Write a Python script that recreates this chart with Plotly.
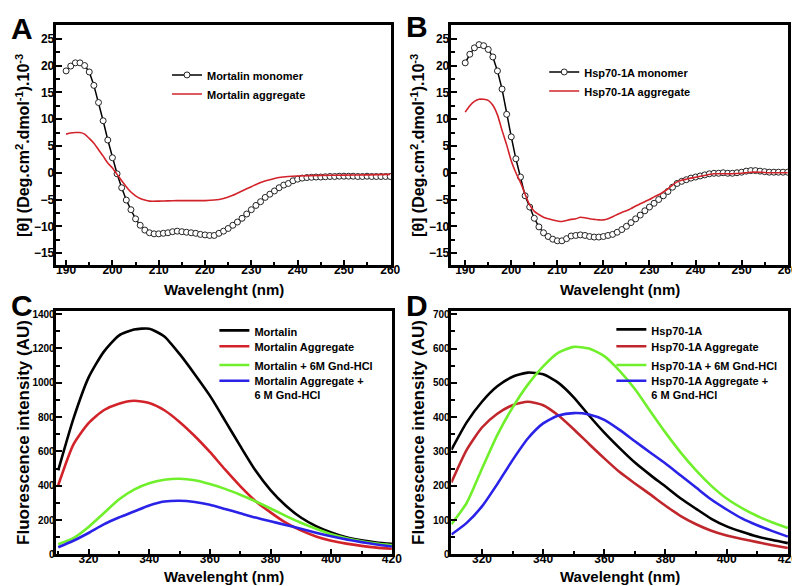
import plotly.graph_objects as go

FONT = "Liberation Sans, Arial, Helvetica, sans-serif"

# ---------------- Panel A / B : CD spectra ----------------
cd_wl = list(range(190, 261))

mortalin_monomer = [
    19.0, 19.9, 20.5, 20.5, 20.0, 18.8, 16.3, 13.1, 9.7, 6.1,
    2.8, -0.2, -2.8, -5.1, -6.9, -8.6, -9.8, -10.7, -11.2, -11.4,
    -11.4, -11.3, -11.2, -11.0, -10.9, -11.0, -11.1, -11.2, -11.3, -11.5,
    -11.6, -11.7, -11.7, -11.3, -10.9, -10.4, -9.8, -9.2, -8.5, -7.7,
    -6.9, -6.1, -5.4, -4.6, -4.0, -3.4, -2.8, -2.3, -2.0, -1.5,
    -1.2, -1.0, -0.9, -0.85, -0.8, -0.8, -0.75, -0.7, -0.7, -0.65,
    -0.65, -0.65, -0.65, -0.7, -0.7, -0.65, -0.7, -0.7, -0.7, -0.7,
    -0.7]

mortalin_agg_wl = [190, 191, 192, 193, 194, 195, 196, 197, 198, 199, 200, 201, 202, 203, 204,
                   205, 206, 207, 208, 210, 212, 214, 216, 218, 220, 222, 224, 226, 228, 230,
                   232, 234, 236, 238, 240, 245, 250, 255, 260]
mortalin_agg = [7.2, 7.4, 7.5, 7.5, 7.2, 6.4, 5.5, 4.3, 3.1, 1.8, 0.9, -0.3, -1.5, -2.6, -3.6,
                -4.3, -4.8, -5.1, -5.3, -5.3, -5.25, -5.2, -5.2, -5.2, -5.2, -5.1, -4.8, -4.2, -3.4, -2.6,
                -1.8, -1.3, -0.9, -0.7, -0.6, -0.5, -0.45, -0.4, -0.3]

hsp_monomer = [
    20.5, 22.1, 23.3, 23.9, 23.7, 23.0, 21.6, 19.0, 15.6, 10.9,
    6.7, 2.6, -0.8, -4.3, -6.4, -8.5, -10.1, -11.2, -11.9, -12.4,
    -12.7, -12.7, -12.3, -11.8, -11.7, -11.6, -11.7, -11.9, -12.0, -12.0,
    -11.9, -11.7, -11.5, -11.1, -10.6, -10.0, -9.3, -8.6, -7.9, -7.1,
    -6.4, -5.7, -5.0, -4.3, -3.5, -2.7, -2.0, -1.6, -1.3, -1.0,
    -0.8, -0.6, -0.4, -0.2, -0.1, -0.1, 0.0, -0.1, -0.1, 0.0,
    0.1, 0.3, 0.4, 0.4, 0.3, 0.2, 0.1, 0.1, 0.1, 0.1,
    0.1]

hsp_agg_wl = list(range(190, 241)) + [242, 244, 246, 248, 250, 252, 254, 256, 258, 260]
hsp_agg = [
    11.3, 12.5, 13.3, 13.7, 13.7, 13.5, 12.6, 10.8, 7.9, 5.2,
    2.2, 0.0, -1.8, -4.0, -6.0, -7.2, -7.8, -8.3, -8.6, -8.8,
    -9.0, -9.1, -8.9, -8.7, -8.6, -8.3, -8.4, -8.6, -8.7, -8.8,
    -8.8, -8.6, -8.2, -7.8, -7.4, -7.1, -6.7, -6.2, -5.8, -5.4,
    -5.0, -4.5, -4.1, -3.6, -3.0, -2.3, -1.7, -1.4, -1.2, -1.0,
    -0.85,
    -0.5, -0.2, -0.2, -0.2, -0.1, 0.1, 0.1, 0.0, 0.0, 0.0]

# ---------------- Panel C / D : fluorescence ----------------
fl_wl = list(range(310, 421, 5))

mortalin = [490, 790, 1030, 1180, 1275, 1310, 1315, 1270, 1168, 1050, 925, 780, 632,
            490, 375, 285, 215, 165, 128, 100, 82, 70, 62]
mortalin_aggr = [403, 640, 765, 840, 878, 895, 882, 840, 772, 690, 597, 495, 398,
                 312, 245, 185, 140, 105, 80, 63, 50, 40, 33]
mortalin_gnd = [60, 95, 160, 240, 320, 378, 415, 435, 441, 432, 410, 382, 348,
                310, 268, 225, 185, 150, 118, 95, 77, 63, 53]
mortalin_aggr_gnd = [42, 80, 125, 175, 215, 250, 285, 308, 313, 306, 290, 265, 240,
                     215, 193, 172, 150, 127, 106, 88, 72, 58, 46]

hsp = [305, 385, 445, 490, 518, 530, 525, 500, 458, 405, 355, 310, 268,
       232, 198, 163, 133, 104, 82, 66, 52, 42, 33]
hsp_aggr = [210, 305, 370, 410, 435, 445, 435, 405, 365, 322, 280, 240, 207,
            175, 142, 112, 88, 69, 55, 45, 36, 27, 19]
hsp_gnd = [88, 150, 250, 348, 428, 495, 548, 588, 605, 600, 578, 535, 482,
           418, 355, 297, 245, 200, 163, 135, 112, 93, 77]
hsp_aggr_gnd = [58, 92, 140, 205, 275, 338, 382, 405, 412, 408, 392, 363, 330,
                297, 265, 230, 195, 160, 131, 105, 85, 68, 52]

RED = "#d2232a"
RED_D = "#c0272d"
GREEN = "#70f02c"
BLUE = "#2a22e6"
BLACK = "#000000"

fig = go.Figure()


def monomer(x, y, name, xa, ya, leg):
    fig.add_trace(go.Scatter(
        x=x, y=y, name=name, mode="lines+markers", xaxis=xa, yaxis=ya, legend=leg,
        line=dict(color="black", width=1.5),
        marker=dict(symbol="circle", size=6, color="white", line=dict(color="#222222", width=1))))


def line(x, y, name, color, xa, ya, leg, width=1.6):
    fig.add_trace(go.Scatter(
        x=x, y=y, name=name, mode="lines", xaxis=xa, yaxis=ya, legend=leg,
        line=dict(color=color, width=width, shape="spline", smoothing=0.6)))


monomer(cd_wl, mortalin_monomer, "Mortalin monomer", "x", "y", "legend")
line(mortalin_agg_wl, mortalin_agg, "Mortalin aggregate", RED, "x", "y", "legend")

monomer(cd_wl, hsp_monomer, "Hsp70-1A monomer", "x2", "y2", "legend2")
line(hsp_agg_wl, hsp_agg, "Hsp70-1A aggregate", RED, "x2", "y2", "legend2")

line(fl_wl, mortalin, "Mortalin", BLACK, "x3", "y3", "legend3", 2.6)
line(fl_wl, mortalin_aggr, "Mortalin Aggregate", RED, "x3", "y3", "legend4", 2.6)
line(fl_wl, mortalin_gnd, "Mortalin + 6M Gnd-HCl", GREEN, "x3", "y3", "legend5", 2.6)
line(fl_wl, mortalin_aggr_gnd, "Mortalin Aggregate +<br>6 M Gnd-HCl", BLUE, "x3", "y3", "legend6", 2.6)

line(fl_wl, hsp, "Hsp70-1A", BLACK, "x4", "y4", "legend7", 2.6)
line(fl_wl, hsp_aggr, "Hsp70-1A Aggregate", RED_D, "x4", "y4", "legend8", 2.6)
line(fl_wl, hsp_gnd, "Hsp70-1A + 6M Gnd-HCl", GREEN, "x4", "y4", "legend9", 2.6)
line(fl_wl, hsp_aggr_gnd, "Hsp70-1A Aggregate +<br>6 M Gnd-HCl", BLUE, "x4", "y4", "legend10", 2.6)

W, H = 800, 586


def px(v):
    return v / W


def py(v):
    return 1 - v / H


def axis(domain, rng, dtick, mdtick, anchor, fsize=12, standoff=-3):
    return dict(domain=domain, range=rng, anchor=anchor, showline=True, mirror=True,
                linecolor="black", linewidth=2.5, ticks="inside", ticklen=6, tickwidth=2,
                tickcolor="black", tick0=0, dtick=dtick, ticklabelstandoff=standoff,
                minor=dict(ticks="inside", ticklen=3.5, tickwidth=1.5, tickcolor="black",
                           tick0=0, dtick=mdtick),
                showgrid=False, zeroline=False,
                tickfont=dict(family=FONT, size=fsize, color="black", weight="bold"))


top_y = [py(259), py(15)]
bot_y = [py(552), py(305)]
left_x = [px(49), px(388)]
right_x = [px(449), px(790)]

layout = dict(
    width=W, height=H, margin=dict(l=0, r=0, t=0, b=0),
    paper_bgcolor="white", plot_bgcolor="white", showlegend=True,
    xaxis=axis(left_x, [187.9, 260.2], 10, 5, "y", standoff=-9),
    yaxis=axis(top_y, [-17.3, 27.6], 5, 2.5, "x"),
    xaxis2=axis(right_x, [187.0, 260.1], 10, 5, "y2", standoff=-9),
    yaxis2=axis(top_y, [-17.3, 27.6], 5, 2.5, "x2"),
    xaxis3=axis([px(49), px(389)], [309.4, 420.1], 20, 10, "y3", standoff=-9),
    yaxis3=axis(bot_y, [0, 1419], 200, 100, "x3", 10),
    xaxis4=axis(right_x, [310, 420.1], 20, 10, "y4", standoff=-9),
    yaxis4=axis(bot_y, [0, 710], 100, 50, "x4", 10),
)

leg_font = dict(family=FONT, size=11, color="black", weight="bold")
legend_pos = [("legend", 161, 52), ("legend2", 543, 49),
              ("legend3", 209, 311), ("legend4", 209, 327), ("legend5", 209, 346),
              ("legend6", 209, 362),
              ("legend7", 611, 310), ("legend8", 611, 327), ("legend9", 611, 346),
              ("legend10", 611, 362)]
for key, x0, y0 in legend_pos:
    layout[key] = dict(x=px(x0), y=py(y0), xanchor="left", yanchor="top",
                       bgcolor="rgba(0,0,0,0)", borderwidth=0, font=leg_font,
                       valign="top", tracegroupgap=0, itemwidth=30)

fig.update_layout(**layout)

ann = []
# panel letters
for letter, x, y in [("A", 1, 19), ("B", 401, 17), ("C", 1, 300), ("D", 401, 300)]:
    ann.append(dict(text=letter, x=px(x), y=py(y), xref="paper", yref="paper",
                    xanchor="left", yanchor="middle", showarrow=False,
                    font=dict(family=FONT, size=30, color="black", weight="bold")))
# x titles
for xc, yc in [(218.5, 283), (619.5, 283), (219, 574), (619.5, 574)]:
    ann.append(dict(text="Wavelenght (nm)", x=px(xc), y=py(yc), xref="paper", yref="paper",
                    xanchor="center", yanchor="middle", showarrow=False,
                    font=dict(family=FONT, size=15, color="black", weight="bold")))
# y titles
cd_title = "[θ] (Deg.cm<sup>2</sup>.dmol<sup>-1</sup>).10<sup>-3</sup>"
for xc, yc, t, fs in [(15, 137, cd_title, 16), (415, 137, cd_title, 16),
                      (15, 428, "Fluorescence intensity (AU)", 17),
                      (415, 428, "Fluorescence intensity (AU)", 17)]:
    ann.append(dict(text=t, x=px(xc), y=py(yc), xref="paper", yref="paper",
                    xanchor="center", yanchor="middle", showarrow=False, textangle=-90,
                    font=dict(family=FONT, size=fs, color="black", weight="bold")))
fig.update_layout(annotations=ann)

fig.write_html("out.html")
